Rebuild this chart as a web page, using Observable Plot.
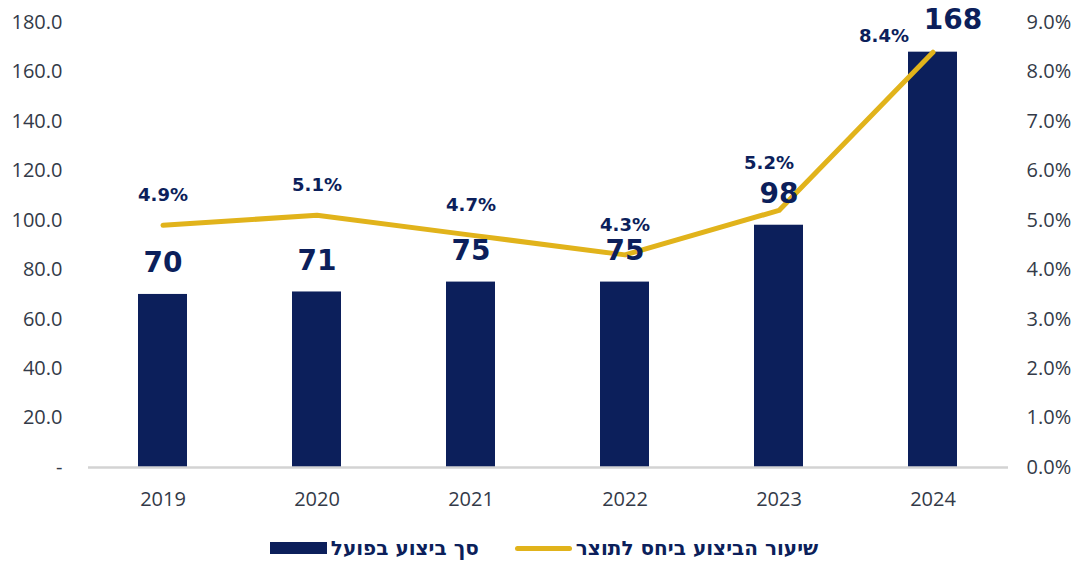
<!DOCTYPE html>
<html>
<head>
<meta charset="utf-8">
<script src="https://cdn.jsdelivr.net/npm/d3@7"></script>
<script src="https://cdn.jsdelivr.net/npm/@observablehq/plot@0.6"></script>
<style>
  html, body { margin: 0; padding: 0; background: #fff; }
  #chart { width: 1086px; }
  .legend { display: flex; direction: rtl; justify-content: center; align-items: center; gap: 36px;
    font-family: "DejaVu Sans", "Noto Sans", sans-serif; font-weight: 700; font-size: 20px; color: #0c1f5b;
    margin-top: 11px; padding-left: 2px; }
  .item { display: flex; align-items: center; gap: 4px; }
  .sw-bar { width: 57px; height: 12px; background: #0c1f5b; }
  .sw-line { width: 57px; height: 5px; background: #e1b31b; border-radius: 3px; }
</style>
</head>
<body>
<div id="chart"></div>
<script>
const years = ["2019", "2020", "2021", "2022", "2023", "2024"];
const amounts = [70, 71, 75, 75, 98, 168];
const rates = [4.9, 5.1, 4.7, 4.3, 5.2, 8.4];
const leftTicks = [0, 20, 40, 60, 80, 100, 120, 140, 160, 180];
const rightTicks = [0, 1, 2, 3, 4, 5, 6, 7, 8, 9];
const barName = "סך ביצוע בפועל";
const lineName = "שיעור הביצוע  ביחס לתוצר";

const NAVY = "#0c1f5b";
const GOLD = "#e1b31b";
const SCALE = 20; // 9% aligns with 180

const data = years.map((y, i) => ({year: y, amount: amounts[i], rate: rates[i], rs: rates[i] * SCALE, last: i === years.length - 1}));

const tickFont = "'Open Sans', 'Noto Sans', sans-serif";
const labelFont = "'DejaVu Sans', sans-serif";

const plot = Plot.plot({
  width: 1086,
  height: 525,
  marginTop: 22,
  marginBottom: 58,
  marginLeft: 88,
  marginRight: 78,
  style: {fontFamily: tickFont, fontSize: "20px", color: "#333a48", background: "#fff"},
  x: {domain: years, paddingInner: 0.68, paddingOuter: 0.32, label: null},
  y: {domain: [0, 180], label: null},
  marks: [
    Plot.axisY(leftTicks, {anchor: "left", tickSize: 0, tickPadding: 26, label: null,
      tickFormat: d => d === 0 ? "-" : d.toFixed(1), fontSize: 20}),
    Plot.axisY(rightTicks.map(d => d * SCALE), {anchor: "right", tickSize: 0, tickPadding: 18, label: null,
      tickFormat: d => (d / SCALE).toFixed(1) + "%", fontSize: 20}),
    Plot.axisX({tickSize: 0, tickPadding: 24, label: null, fontSize: 20}),
    Plot.barY(data, {x: "year", y: "amount", fill: NAVY}),
    Plot.ruleY([0], {stroke: "#d3d3d3", strokeWidth: 2.5}),
    Plot.line(data, {x: "year", y: "rs", stroke: GOLD, strokeWidth: 5, strokeLinecap: "round", strokeLinejoin: "round"}),
    Plot.text(data.filter(d => !d.last), {x: "year", y: "amount", text: d => String(d.amount), dy: -31,
      fill: NAVY, fontSize: 28, fontWeight: 700, fontFamily: labelFont}),
    Plot.text(data.filter(d => d.last), {x: "year", y: "amount", text: d => String(d.amount), dy: -32, dx: 20,
      fill: NAVY, fontSize: 28, fontWeight: 700, fontFamily: labelFont}),
    Plot.text(data.filter(d => !d.last && d.year !== "2023"), {x: "year", y: "rs", text: d => d.rate.toFixed(1) + "%", dy: -30,
      fill: NAVY, fontSize: 18, fontWeight: 700, fontFamily: labelFont}),
    Plot.text(data.filter(d => d.year === "2023"), {x: "year", y: "rs", text: d => d.rate.toFixed(1) + "%", dy: -47, dx: -10,
      fill: NAVY, fontSize: 18, fontWeight: 700, fontFamily: labelFont}),
    Plot.text(data.filter(d => d.last), {x: "year", y: "rs", text: d => d.rate.toFixed(1) + "%", dy: -16, dx: -49,
      fill: NAVY, fontSize: 18, fontWeight: 700, fontFamily: labelFont})
  ]
});
document.getElementById("chart").appendChild(plot);

const legend = document.createElement("div");
legend.className = "legend";
legend.innerHTML = `
  <div class="item"><span>${lineName}</span><div class="sw-line"></div></div>
  <div class="item"><span>${barName}</span><div class="sw-bar"></div></div>`;
document.getElementById("chart").appendChild(legend);
</script>
</body>
</html>
